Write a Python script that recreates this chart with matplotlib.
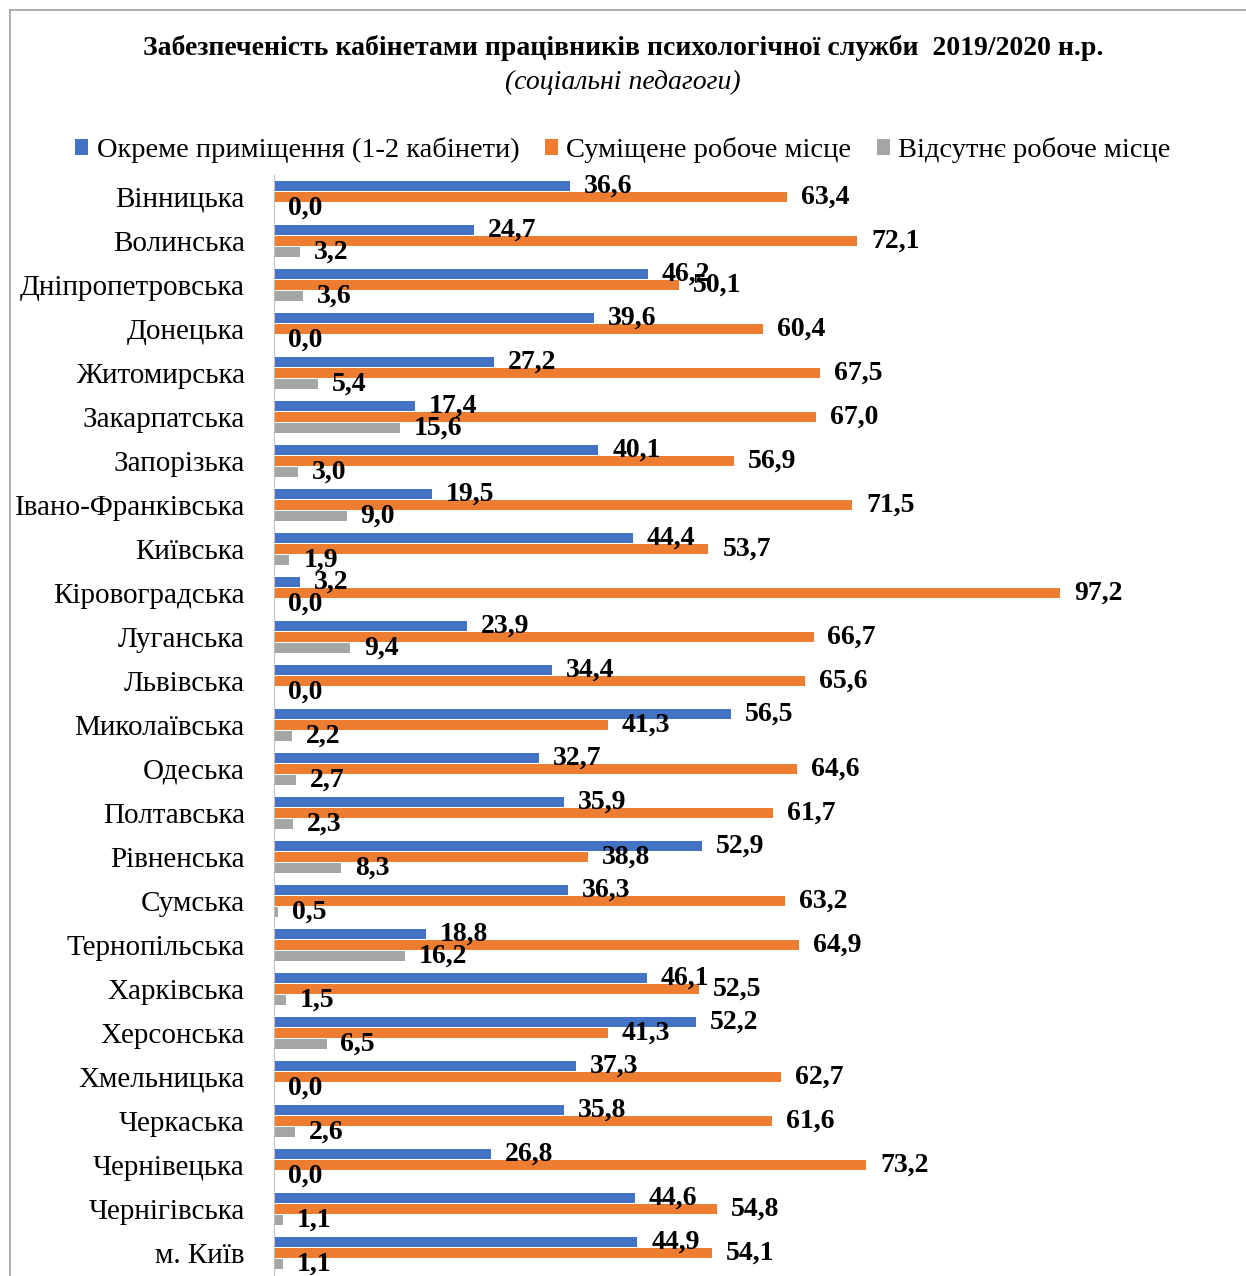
import numpy as np
import matplotlib.pyplot as plt
from matplotlib.lines import Line2D

plt.rcParams['font.family'] = ['Liberation Serif', 'DejaVu Serif']

# Data
regions = ["Вінницька", "Волинська", "Дніпропетровська", "Донецька", "Житомирська",
           "Закарпатська", "Запорізька", "Івано-Франківська", "Київська", "Кіровоградська",
           "Луганська", "Львівська", "Миколаївська", "Одеська", "Полтавська",
           "Рівненська", "Сумська", "Тернопільська", "Харківська", "Херсонська",
           "Хмельницька", "Черкаська", "Чернівецька", "Чернігівська", "м. Київ"]
separate = [36.6, 24.7, 46.2, 39.6, 27.2, 17.4, 40.1, 19.5, 44.4, 3.2, 23.9, 34.4, 56.5,
            32.7, 35.9, 52.9, 36.3, 18.8, 46.1, 52.2, 37.3, 35.8, 26.8, 44.6, 44.9]
combined = [63.4, 72.1, 50.1, 60.4, 67.5, 67.0, 56.9, 71.5, 53.7, 97.2, 66.7, 65.6, 41.3,
            64.6, 61.7, 38.8, 63.2, 64.9, 52.5, 41.3, 62.7, 61.6, 73.2, 54.8, 54.1]
absent = [0.0, 3.2, 3.6, 0.0, 5.4, 15.6, 3.0, 9.0, 1.9, 0.0, 9.4, 0.0, 2.2, 2.7, 2.3,
          8.3, 0.5, 16.2, 1.5, 6.5, 0.0, 2.6, 0.0, 1.1, 1.1]
series_names = ["Окреме приміщення (1-2 кабінети)", "Суміщене робоче місце",
                "Відсутнє робоче місце"]
colors = ["#4472C4", "#ED7D31", "#A5A5A5"]

W, H = 1246, 1276
fig = plt.figure(figsize=(W / 100, H / 100), dpi=100)
ax = fig.add_axes([274 / W, 1 - 1275 / H, 1 - 274 / W, 1100 / H])

y = np.arange(len(regions))
h = 0.23
off = 0.25
for i, (vals, name, c) in enumerate(zip([separate, combined, absent], series_names, colors)):
    bars = ax.barh(y + (i - 1) * off, vals, height=h, color=c, label=name)
    ax.bar_label(bars, labels=[f"{v:.1f}".replace(".", ",") for v in vals],
                 padding=10, fontsize=20, fontweight="bold", color="black")

ax.set_xlim(0, (W - 274) / 8.09)
ax.set_ylim(len(regions) - 0.5, -0.5)
ax.set_yticks(y)
ax.set_yticklabels(regions, fontsize=21)
ax.tick_params(axis="y", length=0, pad=21)
ax.set_xticks([])
for s in ["top", "right", "bottom"]:
    ax.spines[s].set_visible(False)
ax.spines["left"].set_color("#BFBFBF")

fig.text(0.5, 1 - 48 / H, "Забезпеченість кабінетами працівників психологічної служби  2019/2020 н.р.",
         ha="center", va="center", fontsize=20, fontweight="bold")
fig.text(0.5, 1 - 82 / H, "(соціальні педагоги)", ha="center", va="center",
         fontsize=20, style="italic")

handles, labels = ax.get_legend_handles_labels()
fig.legend(handles, labels, loc="center", bbox_to_anchor=(0.5, 1 - 150 / H), ncol=3,
           frameon=False, fontsize=20.5, handlelength=0.45, handleheight=0.45,
           handletextpad=0.3, columnspacing=0.9)

# chart border (top and left visible)
fig.add_artist(Line2D([10 / W, 1], [1 - 10 / H, 1 - 10 / H], color="#A0A0A0", lw=1.2))
fig.add_artist(Line2D([10 / W, 10 / W], [0, 1 - 10 / H], color="#A0A0A0", lw=1.2))

fig.savefig("out.png", dpi=100)
